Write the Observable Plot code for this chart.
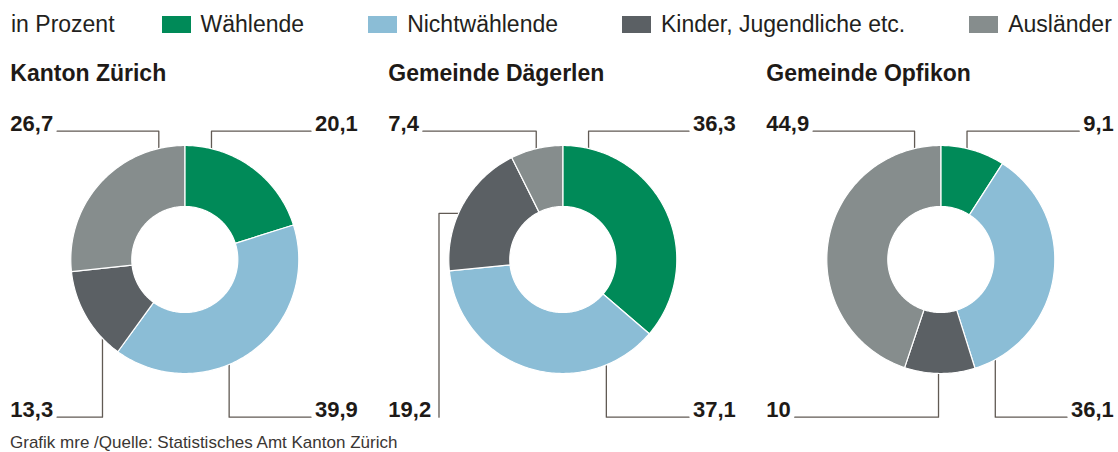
<!DOCTYPE html>
<html><head><meta charset="utf-8">
<script src="https://cdn.jsdelivr.net/npm/d3@7"></script>
<script src="https://cdn.jsdelivr.net/npm/@observablehq/plot@0.6"></script>
<style>
body{margin:0;background:#fff;font-family:"Liberation Sans",Arial,sans-serif;color:#231f20;width:1118px;overflow:hidden}
#legend{height:48px;display:flex;align-items:center;padding:0 0 0 11px;font-size:23px;line-height:23px;box-sizing:border-box;white-space:nowrap}
#legend .unit{margin-right:47px}
.item{display:flex;align-items:center;margin-right:64px}
.sw{width:29px;height:17px;margin-right:10px}
#caption{font-size:17px;padding:3px 0 0 10px;line-height:24px;color:#3a3633}
</style></head><body>
<div id="legend"></div><div id="chart"></div><div id="caption"></div>
<script>
// ---- data ----
const regions = ["Kanton Zürich", "Gemeinde Dägerlen", "Gemeinde Opfikon"];
const categories = ["Wählende", "Nichtwählende", "Kinder, Jugendliche etc.", "Ausländer"];
const colors = ["#008a58", "#8bbdd6", "#5b6064", "#868d8d"];
const kantonZuerich = [20.1, 39.9, 13.3, 26.7];
const daegerlen = [36.3, 37.1, 19.2, 7.4];
const opfikon = [9.1, 36.1, 10, 44.9];
const values = [kantonZuerich, daegerlen, opfikon];
const unitLabel = "in Prozent";
const captionText = "Grafik mre /Quelle: Statistisches Amt Kanton Zürich";

// ---- layout (not data) ----
const W = 1118, H = 380, R = 114, CY = 211, CX0 = 184.3, STEP = 378, INNER = 0.465;
const leaders = [
  [{side:"top",dx:0.234},{side:"bottom",dx:0.389},{side:"bottom",dx:-0.722},{side:"top",dx:-0.228}],
  [{side:"top",dx:0.226},{side:"bottom",dx:0.382},{side:"elbow",dy:0.404,ex:-1.086},{side:"top",dx:-0.233}],
  [{side:"top",dx:0.23},{side:"bottom",dx:0.478},{side:"bottom",dx:-0.02},{side:"top",dx:-0.23}]
];
const FONT = "Liberation Sans, Arial, sans-serif";
const topY = (CY - 82.7) / R, botY = (CY - 368.7) / R, titleY = (CY - 32.7) / R;
const LEFT = -174.5 / R, RIGHT = 173 / R, GAP = 4 / R;

// legend
const legend = document.getElementById("legend");
const first = document.createElement("div"); first.className = "unit"; first.textContent = unitLabel; legend.appendChild(first);
categories.forEach((c, j) => {
  const it = document.createElement("div"); it.className = "item";
  const sw = document.createElement("div"); sw.className = "sw"; sw.style.background = colors[j];
  const t = document.createElement("span"); t.textContent = c;
  it.appendChild(sw); it.appendChild(t); legend.appendChild(it);
});
document.getElementById("caption").textContent = captionText;

const fmt = v => String(v).replace(".", ",");
const ctx = document.createElement("canvas").getContext("2d");
ctx.font = "bold 22px 'Liberation Sans'";
const measure = s => ctx.measureText(s).width;

// slices
const slices = [];
regions.forEach((reg, i) => {
  const cx = i * STEP / R;
  const vals = values[i], total = d3.sum(vals);
  let acc = 0;
  vals.forEach((v, j) => {
    const a0 = acc / total * 2 * Math.PI, a1 = (acc + v) / total * 2 * Math.PI; acc += v;
    const n = Math.max(2, Math.ceil((a1 - a0) / (Math.PI / 180)));
    const key = reg + "|" + categories[j];
    const pts = [];
    for (let k = 0; k <= n; k++) { const a = a0 + (a1 - a0) * k / n; pts.push({x: cx + Math.sin(a), y: Math.cos(a)}); }
    for (let k = n; k >= 0; k--) { const a = a0 + (a1 - a0) * k / n; pts.push({x: cx + INNER * Math.sin(a), y: INNER * Math.cos(a)}); }
    pts.push(pts[0]);
    pts.forEach(p => slices.push({x: p.x, y: p.y, key, category: categories[j]}));
  });
});

// leaders and labels
const leaderPts = [], labels = [];
regions.forEach((reg, i) => {
  const cx = i * STEP / R;
  values[i].forEach((v, j) => {
    const L = leaders[i][j], text = fmt(v), w = measure(text) / R, key = reg + "|" + j;
    let pts, left, ly;
    if (L.side === "elbow") {
      left = true; ly = botY;
      const sx = -Math.sqrt(1 - L.dy * L.dy);
      pts = [[cx + sx, L.dy], [cx + L.ex, L.dy], [cx + L.ex, ly]];
    } else {
      left = L.dx < 0; ly = L.side === "top" ? topY : botY;
      const sy = Math.sqrt(1 - L.dx * L.dx) * (L.side === "top" ? 1 : -1);
      const endX = left ? cx + LEFT + w + GAP : cx + RIGHT - w - GAP;
      pts = [[cx + L.dx, sy], [cx + L.dx, ly], [endX, ly]];
    }
    pts.forEach(p => leaderPts.push({x: p[0], y: p[1], key}));
    labels.push({x: left ? cx + LEFT : cx + RIGHT, y: ly, text, left});
  });
});

const chart = Plot.plot({
  width: W, height: H,
  marginLeft: 0, marginRight: 0, marginTop: 0, marginBottom: 0,
  x: {domain: [-CX0 / R, (W - CX0) / R], axis: null},
  y: {domain: [-(H - CY) / R, CY / R], axis: null},
  color: {domain: categories, range: colors},
  style: {fontFamily: FONT, background: "white", color: "#231f20", overflow: "visible"},
  marks: [
    Plot.line(leaderPts, {x: "x", y: "y", z: "key", stroke: "#615a54", strokeWidth: 1.3, curve: "linear"}),
    Plot.line(slices, {x: "x", y: "y", z: "key", fill: "category", stroke: "white", strokeWidth: 1.2, curve: "linear"}),
    Plot.text(labels.filter(d => d.left), {x: "x", y: "y", text: "text", textAnchor: "start", lineAnchor: "bottom", fontSize: 22, fontWeight: "bold", fill: "#1e1a17"}),
    Plot.text(labels.filter(d => !d.left), {x: "x", y: "y", text: "text", textAnchor: "end", lineAnchor: "bottom", fontSize: 22, fontWeight: "bold", fill: "#1e1a17"}),
    Plot.text(regions, {x: (d, i) => i * STEP / R + LEFT, y: titleY, text: d => d, textAnchor: "start", lineAnchor: "bottom", fontSize: 23, fontWeight: "bold", fill: "#1e1a17"})
  ]
});
document.getElementById("chart").appendChild(chart);
</script>
</body></html>
